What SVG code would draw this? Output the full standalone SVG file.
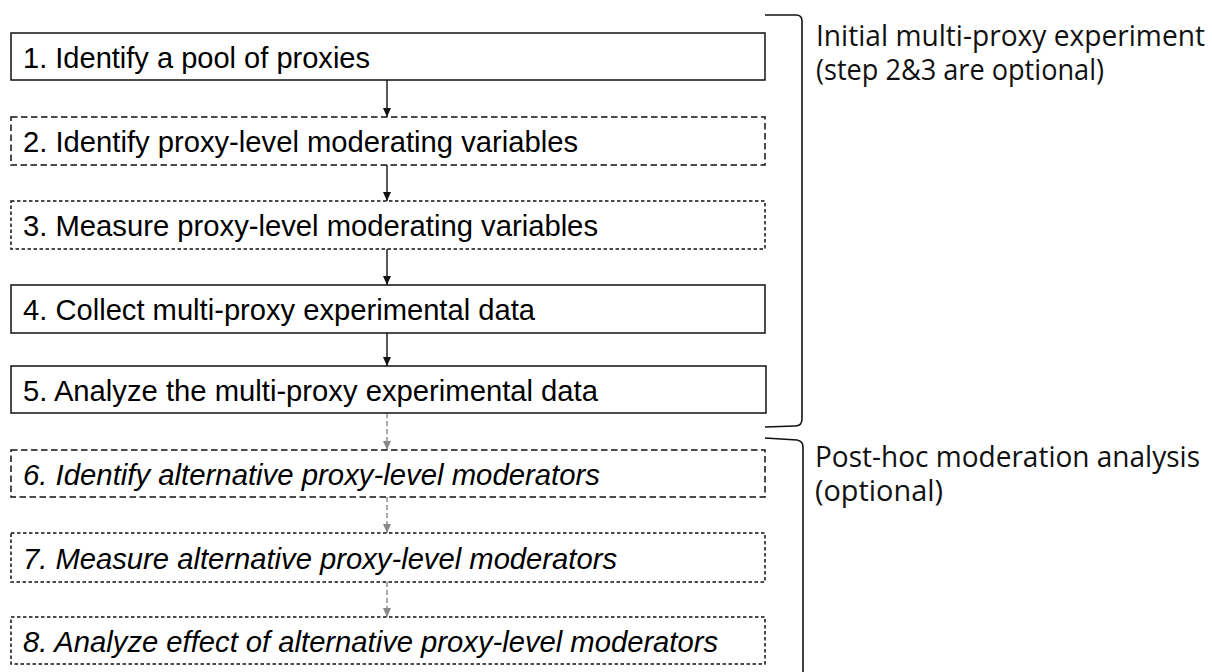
<svg xmlns="http://www.w3.org/2000/svg" width="1212" height="672" viewBox="0 0 1212 672">
<style>
.box{fill:#fff;stroke:#111;stroke-width:1.5}
.dl{stroke-dasharray:6.5 3.5}
.ds{stroke-dasharray:3.5 2.5}
.t{font-family:"Liberation Sans",Arial,sans-serif;font-size:29px;fill:#000}
.i{font-style:italic}
.side{font-family:"Open Sans","Noto Sans",sans-serif;font-size:29px;fill:#111}
.con{stroke:#111;stroke-width:1.4;fill:none}
.gcon{stroke:#888;stroke-width:1.4;fill:none;stroke-dasharray:5 3}
.br{stroke:#111;stroke-width:1.6;fill:none}
</style>
<defs>
<marker id="ah" markerWidth="10" markerHeight="10" refX="9" refY="5" orient="auto" markerUnits="userSpaceOnUse"><path d="M0,1 L9,5 L0,9 Z" fill="#111"/></marker>
<marker id="ahg" markerWidth="10" markerHeight="10" refX="9" refY="5" orient="auto" markerUnits="userSpaceOnUse"><path d="M0,1 L9,5 L0,9 Z" fill="#888"/></marker>
</defs>
<g id="connectors">
<line class="con" x1="387" y1="80" x2="387" y2="117" marker-end="url(#ah)"/>
<line class="con" x1="387" y1="165" x2="387" y2="201" marker-end="url(#ah)"/>
<line class="con" x1="387" y1="249" x2="387" y2="285" marker-end="url(#ah)"/>
<line class="con" x1="387" y1="333" x2="387" y2="366" marker-end="url(#ah)"/>
<line class="gcon" x1="387" y1="413" x2="387" y2="450" marker-end="url(#ahg)"/>
<line class="gcon" x1="387" y1="497" x2="387" y2="533" marker-end="url(#ahg)"/>
<line class="gcon" x1="387" y1="582" x2="387" y2="617" marker-end="url(#ahg)"/>
</g>
<g id="n1"><rect class="box" x="11" y="33" width="754" height="47"/><text class="t" x="23" y="68" textLength="347" lengthAdjust="spacingAndGlyphs">1. Identify a pool of proxies</text></g>
<g id="n2"><rect class="box dl" x="11" y="117" width="754" height="48"/><text class="t" x="23" y="152" textLength="555" lengthAdjust="spacingAndGlyphs">2. Identify proxy-level moderating variables</text></g>
<g id="n3"><rect class="box ds" x="11" y="201" width="754" height="48"/><text class="t" x="23" y="236" textLength="575" lengthAdjust="spacingAndGlyphs">3. Measure proxy-level moderating variables</text></g>
<g id="n4"><rect class="box" x="11" y="285" width="754" height="48"/><text class="t" x="23" y="320" textLength="512" lengthAdjust="spacingAndGlyphs">4. Collect multi-proxy experimental data</text></g>
<g id="n5"><rect class="box" x="11" y="366" width="755" height="47"/><text class="t" x="23" y="401" textLength="575" lengthAdjust="spacingAndGlyphs">5. Analyze the multi-proxy experimental data</text></g>
<g id="n6"><rect class="box dl" x="11" y="450" width="754" height="47"/><text class="t i" x="23" y="485" textLength="577" lengthAdjust="spacingAndGlyphs">6. Identify alternative proxy-level moderators</text></g>
<g id="n7"><rect class="box ds" x="11" y="533" width="754" height="49"/><text class="t i" x="23" y="569" textLength="594" lengthAdjust="spacingAndGlyphs">7. Measure alternative proxy-level moderators</text></g>
<g id="n8"><rect class="box ds" x="11" y="617" width="754" height="47"/><text class="t i" x="23" y="652" textLength="695" lengthAdjust="spacingAndGlyphs">8. Analyze effect of alternative proxy-level moderators</text></g>
<g id="bracket1"><path class="br" d="M765,15 L796,15 Q802,15 802,21 L802,419 Q802,426 795,426 L765,427"/>
<text class="side" x="816" y="46" textLength="389" lengthAdjust="spacingAndGlyphs">Initial multi-proxy experiment</text>
<text class="side" x="816" y="80" textLength="288" lengthAdjust="spacingAndGlyphs">(step 2&amp;3 are optional)</text></g>
<g id="bracket2"><path class="br" d="M765,438 L797,440 Q803,441 803,447 L803,672"/>
<text class="side" x="815" y="467" textLength="385" lengthAdjust="spacingAndGlyphs">Post-hoc moderation analysis</text>
<text class="side" x="815" y="501" textLength="128" lengthAdjust="spacingAndGlyphs">(optional)</text></g>
</svg>
